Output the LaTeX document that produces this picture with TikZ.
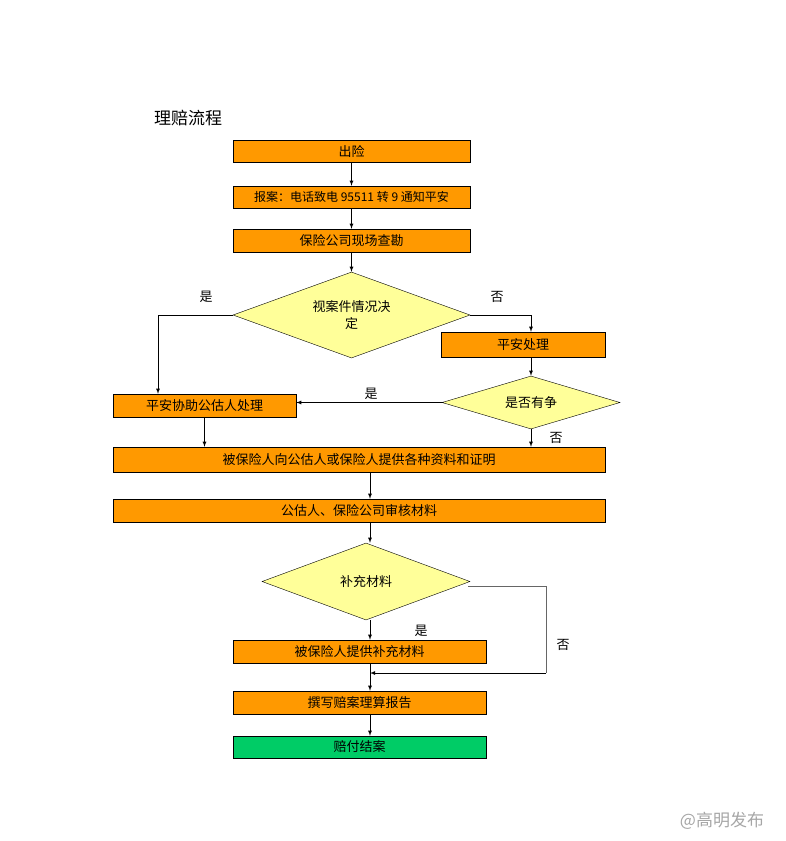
\documentclass[tikz,border=0pt]{standalone}
\usepackage{fontspec}
\setmainfont{Noto Sans CJK SC}
\usetikzlibrary{positioning,shapes.geometric,arrows}

\definecolor{boxorange}{HTML}{FF9900}
\definecolor{boxgreen}{HTML}{00CC66}
\definecolor{diayellow}{HTML}{FFFF99}

\begin{document}
\begin{tikzpicture}[
    x=1pt, y=-1pt,
    flowstep/.style={draw, rectangle, fill=boxorange, inner sep=0pt, font=\fontsize{13}{15}\selectfont},
    decision/.style={draw, diamond, fill=diayellow, inner sep=0pt},
    dtext/.style={font=\fontsize{13}{17}\selectfont, align=center},
    arrow/.style={-latex, thick},
    lbl/.style={font=\fontsize{13}{15}\selectfont}
]
\useasboundingbox (0,0) rectangle (785,841);

% Title
\node[font=\fontsize{17}{19}\selectfont] (title) at (188,118) {理赔流程};

% Steps
\node[flowstep, minimum width=237pt, minimum height=22pt] (accident) at (351.5,151) {出险};
\node[flowstep, minimum width=237pt, minimum height=22pt, font=\fontsize{12}{14}\selectfont] (report) at (351.5,197) {报案：电话致电 95511 转 9 通知平安};
\node[flowstep, minimum width=237pt, minimum height=23pt] (survey) at (351.5,240.5) {保险公司现场查勘};
\node[decision, minimum width=237pt, minimum height=86pt] (case) at (351.5,315) {};
\node[dtext] at (case) {视案件情况决\\定};
\node[flowstep, minimum width=164pt, minimum height=25pt] (pingan) at (523,344.5) {平安处理};
\node[decision, minimum width=178pt, minimum height=53pt] (dispute) at (531,402.5) {};
\node[dtext] at (dispute) {是否有争};
\node[flowstep, minimum width=183pt, minimum height=23pt] (assist) at (204.5,405.5) {平安协助公估人处理};
\node[flowstep, minimum width=492pt, minimum height=25pt] (provide) at (359,459.5) {被保险人向公估人或保险人提供各种资料和证明};
\node[flowstep, minimum width=492pt, minimum height=23pt] (check) at (359,510.5) {公估人、保险公司审核材料};
\node[decision, minimum width=208pt, minimum height=77pt] (supply) at (366,581.5) {};
\node[dtext] at (supply) {补充材料};
\node[flowstep, minimum width=253pt, minimum height=23pt] (extra) at (359.5,651.5) {被保险人提供补充材料};
\node[flowstep, minimum width=253pt, minimum height=23pt] (calc) at (359.5,702.5) {撰写赔案理算报告};
\node[flowstep, fill=boxgreen, minimum width=253pt, minimum height=22pt] (pay) at (359.5,747) {赔付结案};

% Helper points
\coordinate (caseL) at (158,315);
\coordinate (caseR) at (531,315);
\coordinate (supE) at (468,586);
\coordinate (supR) at (546,586);
\coordinate (supB) at (546,673);
\coordinate (join) at (370,673);
\coordinate (x1) at (370,0);

% Connections
\draw[arrow] (accident) -- (report);
\draw[arrow] (report) -- (survey);
\draw[arrow] (survey) -- (case);
\draw[arrow] (case.west) -- (caseL) -- (caseL |- assist.north);
\draw[arrow] (case.east) -- (caseR) -- (caseR |- pingan.north);
\draw[arrow] (pingan.south -| dispute.north) -- (dispute.north);
\draw[arrow] (dispute.west) -- (dispute.west -| assist.east);
\draw[arrow] (dispute.south) -- (dispute.south |- provide.north);
\draw[arrow] (assist) -- (assist |- provide.north);
\draw[arrow] (x1 |- provide.south) -- (x1 |- check.north);
\draw[arrow] (x1 |- check.south) -- (x1 |- supply.north);
\draw[arrow] (x1 |- supply.south) -- (x1 |- extra.north);
\draw[black!60] (supE) -- (supR) -- (supB);
\draw[arrow] (supB) -- (join);
\draw[arrow] (x1 |- extra.south) -- (x1 |- calc.north);
\draw[arrow] (x1 |- calc.south) -- (x1 |- pay.north);

% Labels
\node[lbl] (yes1) at (206,297) {是};
\node[lbl] (no1) at (497,297) {否};
\node[lbl] (yes2) at (371,394) {是};
\node[lbl] (no2) at (556,438) {否};
\node[lbl] (yes3) at (421,631) {是};
\node[lbl] (no3) at (563,645) {否};

% Watermark
\node[text=black!35, font=\fontsize{17}{19}\selectfont] (mark) at (722,821) {@高明发布};
\end{tikzpicture}
\end{document}
